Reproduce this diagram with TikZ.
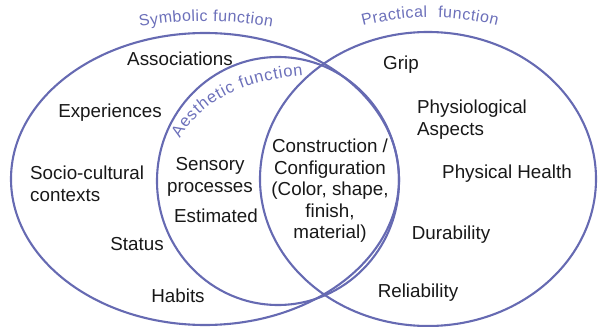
\documentclass[tikz,border=0pt]{standalone}
\usepackage{fontspec}
\setmainfont{Liberation Sans}
\usetikzlibrary{decorations.text}
\definecolor{ringc}{RGB}{102,106,178}
\definecolor{ttlc}{RGB}{108,112,186}
\definecolor{txtc}{RGB}{24,24,24}
\newcommand\mlines[2]{\begin{tabular}[t]{@{}#1@{}}#2\end{tabular}}
\begin{document}
\begin{tikzpicture}[x=1pt,y=1pt,
  ring/.style={draw=ringc, line width=2.1pt},
  lbl/.style={font=\fontsize{18.8}{21.5}\selectfont, text=txtc, inner sep=0pt, anchor=base},
  lblw/.style={lbl, anchor=base west},
  ttl/.style={decorate, decoration={text along path, text color=ttlc, text align=fit to path, text={|\fontsize{16}{19}\selectfont|#1}}},
  ttla/.style={decorate, decoration={text along path, text color=ttlc, text align=fit to path, text={|\fontsize{16.5}{19}\selectfont|#1}}}
]
\useasboundingbox (0,0) rectangle (598,327);
% circles
\draw[ring] (205,148) ellipse[x radius=194, y radius=146];
\draw[ring] (278,146) ellipse[x radius=121, y radius=124];
\draw[ring] (428,148) ellipse[x radius=168, y radius=147];
% curved titles
\path[ttl={Symbolic function}] (139.9,300) arc[start angle=100.4, end angle=79.6, radius=366];
\path[ttl={Practical}] (362.9,301) arc[start angle=104.5, end angle=90.6, radius=268];
\path[ttl={function}] (438.0,309.4) arc[start angle=88.3, end angle=75.5, radius=268];
\path[ttla={Aesthetic function}] (180,188) .. controls (203.4,231.2) and (253.6,246.9) .. (303,252);
% labels
\node[lbl] (assoc) at (180,261) {Associations};
\node[lbl] (exper) at (110,209) {Experiences};
\node[lblw] (socio) at (30,147) {\mlines{l}{Socio-cultural\\contexts}};
\node[lbl] (sens) at (210,156) {\mlines{c}{Sensory\\processes}};
\node[lbl] (estim) at (216,104) {Estimated};
\node[lbl] (status) at (137,76) {Status};
\node[lbl] (habits) at (178,24) {Habits};
\node[lbl] (constr) at (330,174) {\mlines{c}{Construction /\\Configuration\\(Color, shape,\\finish,\\material)}};
\node[lbl] (grip) at (401,257) {Grip};
\node[lblw] (physio) at (417,213) {\mlines{l}{Physiological\\Aspects}};
\node[lbl] (health) at (507,148) {Physical Health};
\node[lbl] (dura) at (451,87) {Durability};
\node[lbl] (relia) at (418,29) {Reliability};
\end{tikzpicture}
\end{document}
